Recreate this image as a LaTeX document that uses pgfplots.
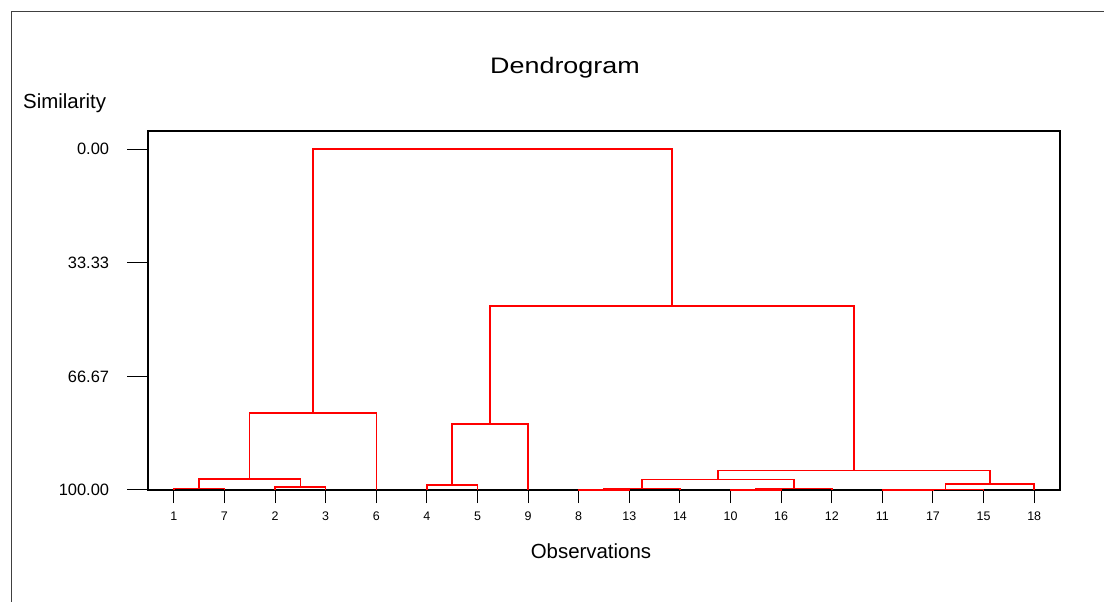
\documentclass[border=0pt]{standalone}
\usepackage{fontspec}
\setmainfont{Liberation Sans}
\newfontfamily\titlefont[FakeStretch=1.2]{Liberation Sans}
\usepackage{pgfplots}
\pgfplotsset{compat=1.18}
\definecolor{linkred}{RGB}{255,0,0}
\pgfplotsset{link/.style={draw=linkred, color=linkred, line width=1.5bp, mark=none, solid}}

\begin{document}
\begin{tikzpicture}[x=1bp,y=1bp]
\useasboundingbox (0,0) rectangle (1104,602);
% outer frame
\draw[line width=1bp, black!75] (11.5,0) -- (11.5,590.5) -- (1104,590.5);
\begin{axis}[
  at={(148bp,112bp)}, anchor=south west,
  scale only axis, width=912bp, height=359bp,
  xmin=0.49, xmax=18.51, ymin=-5.3, ymax=100,
  y dir=reverse,
  clip=false,
  axis line style={line width=1.3bp, black},
  tick align=outside,
  xtick pos=left, ytick pos=left,
  tick style={black, line width=1bp},
  major tick length=13bp,
  ytick style={draw=none},
  xtick={1,...,18},
  xticklabels={1,7,2,3,6,4,5,9,8,13,14,10,16,12,11,17,15,18},
  ytick={0,33.33,66.67,100},
  yticklabels={0.00,33.33,66.67,100.00},
  xticklabel style={font=\fontsize{12.5}{14}\selectfont, inner sep=0pt, anchor=north, yshift=-9bp},
  yticklabel style={font=\fontsize{16.5}{19}\selectfont, inner sep=0pt, anchor=east, xshift=-25.7bp},
  title={Dendrogram},
  every axis title/.style={font=\titlefont\fontsize{22.5}{26}\selectfont,
    at={(axis description cs:0.4572,1)}, anchor=base, yshift=57.5bp, inner sep=0pt},
  xlabel={Observations},
  every axis x label/.style={font=\fontsize{20.5}{24}\selectfont,
    at={(axis description cs:0.4857,0)}, anchor=base, yshift=-68bp, inner sep=0pt},
  ylabel={Similarity},
  every axis y label/.style={font=\fontsize{20.5}{24}\selectfont,
    at={(axis description cs:-0.1371,1)}, anchor=base west, yshift=22.5bp, inner sep=0pt},
]
% longer ticks on the similarity axis
\pgfplotsinvokeforeach{0,33.33,66.67,100}{
  \draw[black, line width=1bp] (axis cs:0.49,#1) -- ([xshift=-21bp]axis cs:0.49,#1);
}
% leaves 1,7,2,3,6,4,5,9,8,13,14,10,16,12,11,17,15,18 sit at positions 1..18
\addplot[link] coordinates {(1,100) (1,99.6) (2,99.6) (2,100)};          % 1+7
\addplot[link] coordinates {(3,100) (3,99.1) (4,99.1) (4,100)};          % 2+3
\addplot[link] coordinates {(1.5,99.6) (1.5,96.8) (3.5,96.8) (3.5,99.1)}; % (1,7)+(2,3)
\addplot[link] coordinates {(2.5,96.8) (2.5,77.4) (5,77.4) (5,100)};     % +6
\addplot[link] coordinates {(6,100) (6,98.6) (7,98.6) (7,100)};          % 4+5
\addplot[link] coordinates {(6.5,98.6) (6.5,80.6) (8,80.6) (8,100)};     % +9
\addplot[link] coordinates {(9,100) (9,99.95) (10,99.95) (10,100)};      % 8+13
\addplot[link] coordinates {(9.5,99.95) (9.5,99.6) (11,99.6) (11,100)};  % +14
\addplot[link] coordinates {(12,100) (12,99.95) (13,99.95) (13,100)};    % 10+16
\addplot[link] coordinates {(12.5,99.95) (12.5,99.6) (14,99.6) (14,100)}; % +12
\addplot[link] coordinates {(10.25,99.6) (10.25,96.9) (13.25,96.9) (13.25,99.6)};
\addplot[link] coordinates {(15,100) (15,99.95) (16,99.95) (16,100)};    % 11+17
\addplot[link] coordinates {(15.5,99.95) (15.5,99.9) (17,99.9) (17,100)}; % +15
\addplot[link] coordinates {(16.25,99.9) (16.25,98.2) (18,98.2) (18,100)}; % +18
\addplot[link] coordinates {(11.75,96.9) (11.75,94.3) (17.125,94.3) (17.125,98.2)};
\addplot[link] coordinates {(7.25,80.6) (7.25,46.0) (14.4375,46.0) (14.4375,94.3)};
\addplot[link] coordinates {(3.75,77.4) (3.75,0) (10.84375,0) (10.84375,46.0)};
\end{axis}
\end{tikzpicture}
\end{document}
